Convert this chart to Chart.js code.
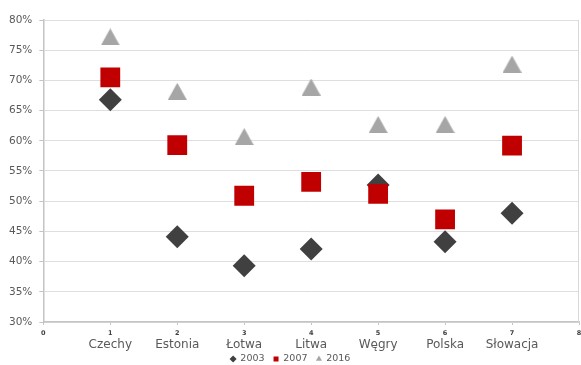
<!DOCTYPE html>
<html>
<head>
<meta charset="utf-8">
<script src="https://cdn.jsdelivr.net/npm/chart.js@4"></script>
<style>
  html, body { margin: 0; padding: 0; background: #ffffff; overflow: hidden; }
  #wrap { width: 581px; height: 365px; }
  canvas { display: block; }
</style>
</head>
<body>
<div id="wrap"><canvas id="c" width="581" height="365"></canvas></div>
<script>
// Country positions on the numeric x axis and their names
const positions = [1, 2, 3, 4, 5, 6, 7];
const countries = ['Czechy', 'Estonia', 'Łotwa', 'Litwa', 'Węgry', 'Polska', 'Słowacja'];

// Share values (fractions) per year
const values2003 = [0.668, 0.441, 0.393, 0.421, 0.527, 0.433, 0.480];
const values2007 = [0.705, 0.593, 0.509, 0.532, 0.512, 0.470, 0.592];
const values2016 = [0.772, 0.682, 0.607, 0.689, 0.627, 0.627, 0.727];

// Axis ticks
const yTicks = [0.30, 0.35, 0.40, 0.45, 0.50, 0.55, 0.60, 0.65, 0.70, 0.75, 0.80];
const xTicks = [0, 1, 2, 3, 4, 5, 6, 7, 8];

const seriesLabels = ['2003', '2007', '2016'];

function toPoints(vals) {
  return positions.map((x, i) => ({ x: x, y: vals[i] }));
}

// Triangle marker centred on its bounding box
function triangleMarker(w, h, color) {
  const cv = document.createElement('canvas');
  cv.width = w; cv.height = h;
  const g = cv.getContext('2d');
  g.fillStyle = color;
  g.beginPath();
  g.moveTo(0, h);
  g.lineTo(w / 2, 0);
  g.lineTo(w, h);
  g.closePath();
  g.fill();
  return cv;
}

const FONT = "'DejaVu Sans', sans-serif";

// Right-hand frame line of the plot area
const frameRight = {
  id: 'frameRight',
  beforeDatasetsDraw(chart) {
    const a = chart.chartArea;
    const ctx = chart.ctx;
    ctx.save();
    ctx.strokeStyle = '#d9d9d9';
    ctx.lineWidth = 1;
    ctx.beginPath();
    ctx.moveTo(Math.round(a.right) - 0.5, a.top);
    ctx.lineTo(Math.round(a.right) - 0.5, a.bottom);
    ctx.stroke();
    ctx.restore();
  }
};

// Horizontal axes should not widen the side margins
function noSidePadding(scale) {
  scale.paddingLeft = 0;
  scale.paddingRight = 0;
}

// Country-name axis: compact box, labels allowed to spill past it
function namesAxisFit(scale) {
  noSidePadding(scale);
  scale._computeLabelArea = function () { return undefined; };
}

const legendStyles = ['rectRot', 'rect', 'triangle'];

new Chart(document.getElementById('c'), {
  type: 'scatter',
  data: {
    datasets: [
      {
        label: seriesLabels[0],
        data: toPoints(values2003),
        pointStyle: 'rectRot',
        pointRadius: 11.5,
        pointHoverRadius: 11.5,
        backgroundColor: '#404040',
        borderColor: '#404040',
        borderWidth: 0,
        order: 1
      },
      {
        label: seriesLabels[1],
        data: toPoints(values2007),
        pointStyle: 'rect',
        pointRadius: 14,
        pointHoverRadius: 14,
        backgroundColor: '#c00000',
        borderColor: '#c00000',
        borderWidth: 0,
        order: 0
      },
      {
        label: seriesLabels[2],
        data: toPoints(values2016),
        pointStyle: triangleMarker(19, 17, '#a6a6a6'),
        pointRadius: 10,
        pointHoverRadius: 10,
        backgroundColor: '#a6a6a6',
        borderColor: '#a6a6a6',
        borderWidth: 0,
        order: 2
      }
    ]
  },
  options: {
    responsive: false,
    animation: false,
    layout: { autoPadding: false, padding: { top: 20, right: 2, left: 2, bottom: -8.75 } },
    plugins: {
      tooltip: { enabled: false },
      legend: {
        position: 'bottom',
        align: 'center',
        labels: {
          usePointStyle: true,
          boxWidth: 5,
          boxHeight: 5,
          padding: 9,
          color: '#595959',
          font: { family: FONT, size: 9.5 },
          sort: (a, b) => a.datasetIndex - b.datasetIndex,
          generateLabels(chart) {
            const items = Chart.defaults.plugins.legend.labels.generateLabels(chart);
            items.forEach(it => { it.pointStyle = legendStyles[it.datasetIndex]; });
            return items;
          }
        }
      }
    },
    scales: {
      x: {
        type: 'linear',
        position: 'bottom',
        weight: 0,
        min: 0,
        max: 8,
        afterBuildTicks(scale) { scale.ticks = xTicks.map(v => ({ value: v })); },
        afterFit: noSidePadding,
        grid: {
          display: true,
          drawOnChartArea: false,
          drawTicks: true,
          tickLength: 3,
          color: '#c4c4c4'
        },
        border: { display: true, color: '#c4c4c4', width: 1.5 },
        ticks: {
          color: '#404040',
          padding: 0,
          maxRotation: 0,
          autoSkip: false,
          font: { family: FONT, size: 6.5, weight: 'bold', lineHeight: 16 / 6.5 },
          callback: (v) => String(v)
        }
      },
      names: {
        type: 'linear',
        position: 'bottom',
        weight: 1,
        min: 0,
        max: 8,
        afterBuildTicks(scale) { scale.ticks = xTicks.map(v => ({ value: v })); },
        afterFit: namesAxisFit,
        grid: { display: false, drawTicks: true, tickLength: 4 },
        border: { display: false },
        ticks: {
          color: '#595959',
          padding: 0,
          crossAlign: 'center',
          maxRotation: 0,
          autoSkip: false,
          font: { family: FONT, size: 12, lineHeight: 0.25 / 12 },
          callback: (v) => {
            const i = positions.indexOf(v);
            return i >= 0 ? countries[i] : '';
          }
        }
      },
      y: {
        type: 'linear',
        min: 0.30,
        max: 0.80,
        afterBuildTicks(scale) { scale.ticks = yTicks.map(v => ({ value: v })); },
        grid: {
          color: '#dedede',
          lineWidth: 1,
          drawTicks: true,
          tickLength: 4,
          tickColor: '#c4c4c4'
        },
        border: { display: true, color: '#c4c4c4', width: 1.5 },
        ticks: {
          color: '#595959',
          padding: 7,
          font: { family: FONT, size: 10.5 },
          callback: (v) => Math.round(v * 100) + '%'
        }
      }
    }
  },
  plugins: [frameRight]
});
</script>
</body>
</html>
